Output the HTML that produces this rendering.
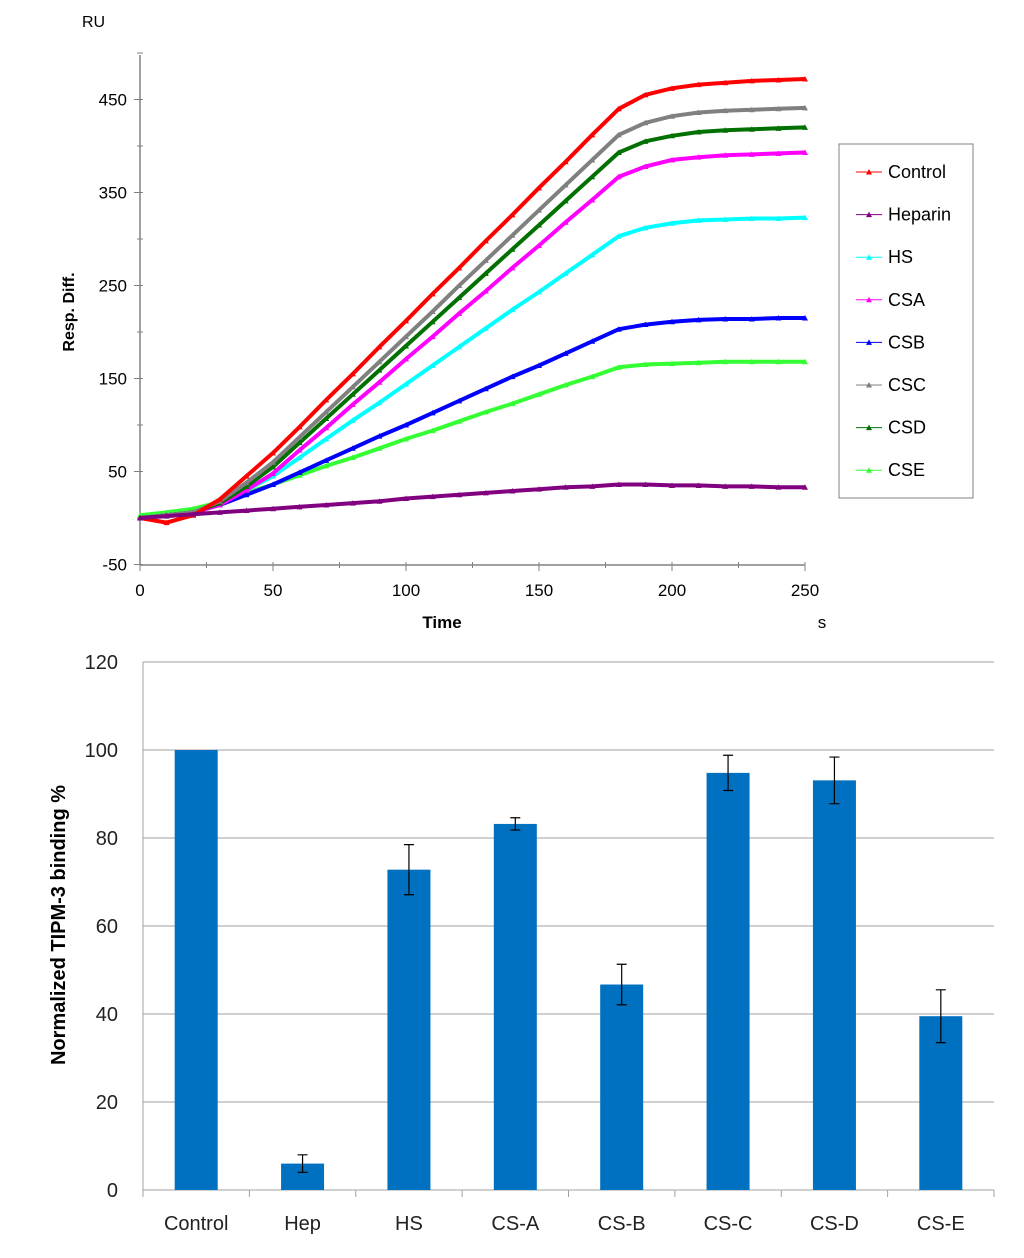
<!DOCTYPE html>
<html><head><meta charset="utf-8"><style>
body{margin:0;background:#fff;font-family:"Liberation Sans",sans-serif}
svg text{font-family:"Liberation Sans",sans-serif}
</style></head><body>
<svg id="s" width="1024" height="1253" viewBox="0 0 1024 1253" xmlns="http://www.w3.org/2000/svg">
<g id="topG"></g>
<g id="botG"></g>
</svg>
<script>
// ---- Top chart data ----
const times=[0,10,20,30,40,50,60,70,80,90,100,110,120,130,140,150,160,170,180,190,200,210,220,230,240,250];
const seriesNames=["Control","Heparin","HS","CSA","CSB","CSC","CSD","CSE"];
const seriesColors=["#ff0000","#800080","#00ffff","#ff00ff","#0000ff","#808080","#007000","#33ff33"];
const control=[0,-5,3,20,45,70,98,127,155,184,212,241,269,298,326,355,383,412,440,455,462,466,468,470,471,472];
const heparin=[0,2,4,6,8,10,12,14,16,18,21,23,25,27,29,31,33,34,36,36,35,35,34,34,33,33];
const hs=[0,3,6,15,30,45,65,85,105,124,144,164,184,204,224,243,263,283,303,312,317,320,321,322,322,323];
const csa=[0,3,6,14,30,48,73,97,122,146,171,195,220,244,269,293,318,342,367,378,385,388,390,391,392,393];
const csb=[0,3,6,14,25,36,49,62,75,88,100,113,126,139,152,164,177,190,203,208,211,213,214,214,215,215];
const csc=[0,3,6,18,38,60,87,114,141,168,195,222,250,277,304,331,358,385,412,425,432,436,438,439,440,441];
const csd=[0,3,6,16,34,55,81,107,133,159,185,211,237,263,289,315,341,367,393,405,411,415,417,418,419,420];
const cse=[3,6,10,17,27,36,46,56,65,75,85,94,104,114,123,133,143,152,162,165,166,167,168,168,168,168];
const xTicks=[0,50,100,150,200,250];
const yTicks=[-50,50,150,250,350,450];
// ---- Bottom chart data ----
const cats=["Control","Hep","HS","CS-A","CS-B","CS-C","CS-D","CS-E"];
const vals=[100,6,72.8,83.2,46.7,94.8,93.1,39.5];
const errs=[0,2,5.7,1.4,4.6,4,5.3,6];
const bTicks=[0,20,40,60,80,100,120];

const NS="http://www.w3.org/2000/svg";
function mk(p,t,a,txt){const e=document.createElementNS(NS,t);for(const k in a)e.setAttribute(k,a[k]);if(txt!==undefined)e.textContent=txt;p.appendChild(e);return e;}
const topG=document.getElementById('topG'),botG=document.getElementById('botG');
const X=t=>140+t*(665/250), Y=v=>518-v*0.93;
let e=mk(topG,'line',{x1:140,y1:55,x2:140,y2:565,stroke:'#808080','stroke-width':1.5});


e=mk(topG,'line',{x1:140,y1:565,x2:805,y2:565,stroke:'#808080','stroke-width':1.5});


for(let v=-50;v<=500;v+=50){const y=Y(v);mk(topG,'line',{x1:(v%100==50||v==-50)?134:137,y1:y,x2:143,y2:y,stroke:'#808080','stroke-width':1});}
yTicks.forEach(v=>{e=mk(topG,'text',{x:127,y:Y(v)+6,'text-anchor':'end','font-size':17},String(v));

});
for(let t=0;t<=250;t+=25){mk(topG,'line',{x1:X(t),y1:562,x2:X(t),y2:t%50==0?571:568,stroke:'#808080','stroke-width':1});}
xTicks.forEach(t=>{e=mk(topG,'text',{x:X(t),y:596,'text-anchor':'middle','font-size':17},String(t));

});
e=mk(topG,'text',{x:82,y:27,'font-size':16},'RU');


e=mk(topG,'text',{x:442,y:628,'text-anchor':'middle','font-size':17,'font-weight':'bold'},'Time');


e=mk(topG,'text',{x:822,y:628,'text-anchor':'middle','font-size':17},'s');


e=mk(topG,'text',{x:0,y:0,transform:'translate(74,312) rotate(-90)','text-anchor':'middle','font-size':16,'font-weight':'bold'},'Resp. Diff.');


const all=[control,heparin,hs,csa,csb,csc,csd,cse];
const order=[7,4,2,3,6,5,0,1];
order.forEach(i=>{const d=all[i];const pts=d.map((v,j)=>X(times[j]).toFixed(1)+','+Y(v).toFixed(1)).join(' ');
e=mk(topG,'polyline',{points:pts,fill:'none',stroke:seriesColors[i],'stroke-width':4,'stroke-linejoin':'round'});


d.forEach((v,j)=>{const x=X(times[j]),y=Y(v);mk(topG,'path',{d:`M${x-3},${y+2.5}L${x+3},${y+2.5}L${x},${y-3}Z`,fill:seriesColors[i]});});
});
e=mk(topG,'rect',{x:839,y:144,width:134,height:354,fill:'#fff',stroke:'#808080','stroke-width':1});


seriesNames.forEach((n,i)=>{const y=172+i*42.6;
mk(topG,'line',{x1:856,y1:y,x2:882,y2:y,stroke:seriesColors[i],'stroke-width':1});
mk(topG,'path',{d:`M866,${y+2.5}L872,${y+2.5}L869,${y-3}Z`,fill:seriesColors[i]});
e=mk(topG,'text',{x:888,y:y+6,'font-size':18},n);

});

// ---- bottom chart ----
const BY=v=>1190-v*4.4, cw=(994-143)/cats.length, BX=i=>143+cw*(i+0.5);
bTicks.forEach(v=>{if(v>0)mk(botG,'line',{x1:143,y1:BY(v),x2:994,y2:BY(v),stroke:'#a0a0a0','stroke-width':1});
e=mk(botG,'text',{x:118,y:BY(v)+7,'text-anchor':'end','font-size':20,fill:'#222'},String(v));

});
e=mk(botG,'line',{x1:143,y1:662,x2:143,y2:1190,stroke:'#a0a0a0','stroke-width':1});


e=mk(botG,'line',{x1:143,y1:1190,x2:994,y2:1190,stroke:'#a0a0a0','stroke-width':1});


for(let i=0;i<=cats.length;i++)mk(botG,'line',{x1:143+cw*i,y1:1190,x2:143+cw*i,y2:1197,stroke:'#a0a0a0','stroke-width':1});
cats.forEach((c,i)=>{const x=BX(i);
e=mk(botG,'rect',{x:x-21.5,y:BY(vals[i]),width:43,height:1190-BY(vals[i]),fill:'#0070c0'});


if(errs[i]>0){const t=BY(vals[i]+errs[i]),b=BY(vals[i]-errs[i]);
e=mk(botG,'path',{d:`M${x},${t}V${b}M${x-5},${t}H${x+5}M${x-5},${b}H${x+5}`,stroke:'#000','stroke-width':1.2,fill:'none'});

}
e=mk(botG,'text',{x:x,y:1230,'text-anchor':'middle','font-size':20,fill:'#222'},c);

});
e=mk(botG,'text',{x:0,y:0,transform:'translate(65,925) rotate(-90)','text-anchor':'middle','font-size':20,'font-weight':'bold'},'Normalized TIPM-3 binding %');


</script>
</body></html>
